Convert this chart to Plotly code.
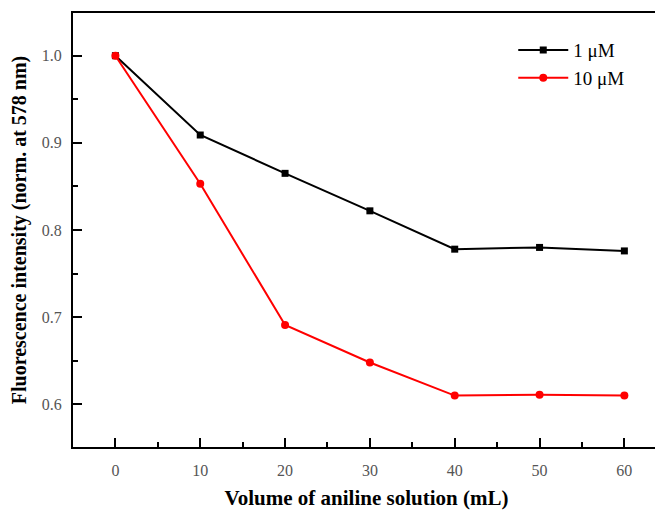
import plotly.graph_objects as go

volume = [0, 10, 20, 30, 40, 50, 60]
conc_1uM = [1.000, 0.909, 0.865, 0.822, 0.778, 0.780, 0.776]
conc_10uM = [1.000, 0.853, 0.691, 0.648, 0.610, 0.611, 0.610]
series_names = ["1 μM", "10 μM"]

font_family = "Liberation Serif, Times New Roman, serif"

fig = go.Figure()
fig.add_trace(go.Scatter(
    x=volume, y=conc_1uM, name=series_names[0], mode="lines+markers",
    line=dict(color="black", width=2),
    marker=dict(symbol="square", size=7, color="black"),
))
fig.add_trace(go.Scatter(
    x=volume, y=conc_10uM, name=series_names[1], mode="lines+markers",
    line=dict(color="#ff0000", width=2),
    marker=dict(symbol="circle", size=8, color="#ff0000"),
))

axis_common = dict(
    showline=True, linecolor="black", linewidth=2, mirror=True,
    ticks="inside", ticklen=9, tickwidth=2, tickcolor="black",
    showgrid=False, zeroline=False, automargin=False,
    tickfont=dict(family=font_family, size=16, color="#555555"),
)

fig.update_xaxes(
    range=[-5, 64.2], tickvals=[0, 10, 20, 30, 40, 50, 60],
    minor=dict(ticks="inside", ticklen=5, tickwidth=2, tickcolor="black", dtick=5, tick0=5),
    title=dict(text="<b>Volume of aniline solution (mL)</b>",
               font=dict(family=font_family, size=21, color="black"), standoff=12),
    ticklabelstandoff=8,
    **axis_common,
)
fig.update_yaxes(
    range=[0.551, 1.049], tickvals=[0.6, 0.7, 0.8, 0.9, 1.0],
    ticktext=["0.6", "0.7", "0.8", "0.9", "1.0"],
    minor=dict(ticks="inside", ticklen=5, tickwidth=2, tickcolor="black", dtick=0.05, tick0=0.55),
    title=dict(text="<b>Fluorescence intensity (norm. at 578 nm)</b>",
               font=dict(family=font_family, size=20, color="black"), standoff=14),
    ticklabelstandoff=6,
    **axis_common,
)

fig.update_layout(
    width=655, height=502,
    margin=dict(l=65, r=3, t=5, b=63),
    plot_bgcolor="white", paper_bgcolor="white",
    legend=dict(x=0.75, y=0.958, xanchor="left", yanchor="top",
                itemwidth=50,
                font=dict(family=font_family, size=19, color="black"),
                bgcolor="rgba(0,0,0,0)", tracegroupgap=0),
)

fig.write_html("out.html")
